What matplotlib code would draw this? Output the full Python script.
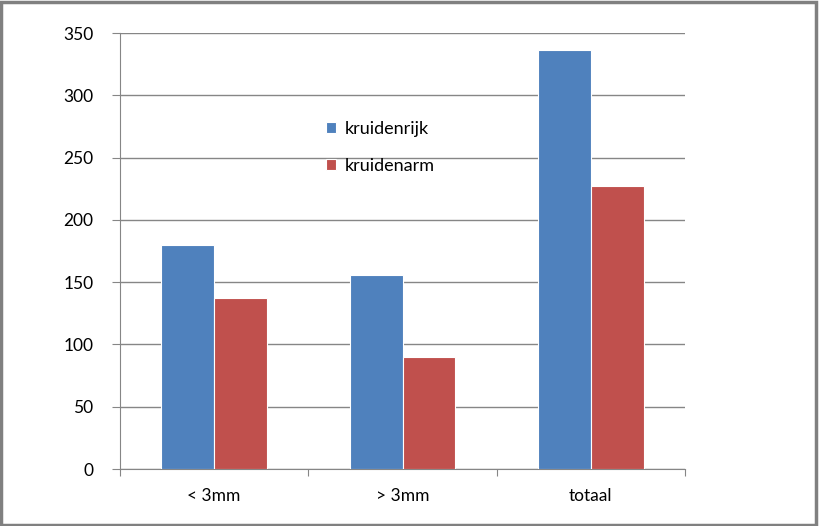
import matplotlib.pyplot as plt
import numpy as np
from matplotlib.patches import Rectangle

# data
categories = ['< 3mm', '> 3mm', 'totaal']
kruidenrijk = [180, 156, 336]
kruidenarm = [137, 90, 227]
yticks = [0, 50, 100, 150, 200, 250, 300, 350]

plt.rcParams['font.family'] = ['Lato', 'DejaVu Sans']

fig = plt.figure(figsize=(8.19, 5.26), dpi=100)
ax = fig.add_axes([120/819, 1-469/526, 565/819, 436/526])

x = np.arange(len(categories))
w = 0.28
ax.bar(x - w/2, kruidenrijk, w, color='#4F81BD', edgecolor='white', linewidth=0.8,
       label='kruidenrijk', zorder=3)
ax.bar(x + w/2, kruidenarm, w, color='#C0504D', edgecolor='white', linewidth=0.8,
       label='kruidenarm', zorder=3)

ax.set_xlim(-0.5, 2.5)
ax.set_ylim(0, 350)
ax.set_yticks(yticks)
ax.yaxis.grid(True, color='#868686', linewidth=1, zorder=0)
ax.set_axisbelow(True)

# category labels between boundary ticks
ax.set_xticks([-0.5, 0.5, 1.5, 2.5])
ax.set_xticklabels([])
ax.set_xticks(x, minor=True)
ax.set_xticklabels(categories, minor=True, fontsize=12.5)
ax.tick_params(axis='x', which='minor', length=0, pad=14)
ax.tick_params(axis='x', which='major', length=5, color='#868686', direction='out')
ax.tick_params(axis='y', length=6, color='#868686', labelsize=12.5, pad=13)

for s in ['top', 'right']:
    ax.spines[s].set_visible(False)
ax.spines['left'].set_color('#868686')
ax.spines['bottom'].set_color('#868686')

fig.legend(loc='upper left', bbox_to_anchor=(310/819, 1-105/526), frameon=False,
           fontsize=13, handlelength=0.55, handleheight=0.55, handletextpad=0.45,
           labelspacing=1.15)

fig.patches.append(Rectangle((0.0015, 0.002), 0.995, 0.995, transform=fig.transFigure,
                             fill=False, edgecolor='#808080', linewidth=2.5))

fig.savefig('out.png', dpi=100)
